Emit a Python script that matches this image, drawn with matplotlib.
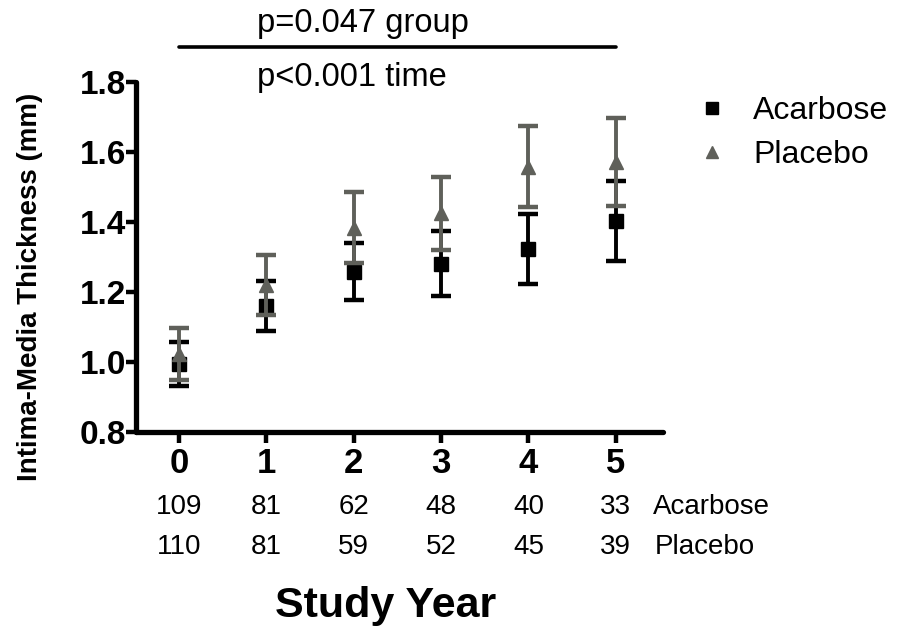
import matplotlib
matplotlib.use("Agg")
import matplotlib.pyplot as plt
from matplotlib.lines import Line2D

plt.rcParams['font.family'] = ['Liberation Sans', 'DejaVu Sans']

years = [0, 1, 2, 3, 4, 5]
acarbose_mean = [0.994, 1.160, 1.258, 1.281, 1.323, 1.403]
acarbose_err = [0.063, 0.071, 0.082, 0.093, 0.100, 0.114]
placebo_mean = [1.023, 1.220, 1.384, 1.425, 1.558, 1.571]
placebo_err = [0.074, 0.086, 0.102, 0.105, 0.116, 0.126]
n_acarbose = [109, 81, 62, 48, 40, 33]
n_placebo = [110, 81, 59, 52, 45, 39]
yticks = [0.8, 1.0, 1.2, 1.4, 1.6, 1.8]
series_names = ["Acarbose", "Placebo"]

BLACK = '#000000'
GRAY = '#5f605a'

fig = plt.figure(figsize=(8.98, 6.32), dpi=100)
ax = fig.add_axes([136/898, 1-432/632, (663-136)/898, 350/632])

ax.errorbar(years, acarbose_mean, yerr=acarbose_err, fmt='s', color=BLACK,
            ecolor=BLACK, markersize=10, elinewidth=2.8, capsize=7, capthick=3.2,
            zorder=3, clip_on=False)
ax.errorbar(years, placebo_mean, yerr=placebo_err, fmt='^', color=GRAY,
            ecolor=GRAY, markersize=10, elinewidth=2.8, capsize=7, capthick=3.2,
            zorder=4, clip_on=False)

ax.set_xlim(-0.49, 5.54)
ax.set_ylim(0.8, 1.8)
ax.set_yticks(yticks)
ax.set_yticklabels([f"{v:.1f}" for v in yticks])
ax.set_xticks(years)
ax.set_xticklabels([str(y) for y in years])

for s in ['top', 'right']:
    ax.spines[s].set_visible(False)
for s in ['left', 'bottom']:
    ax.spines[s].set_linewidth(3.8)
    ax.spines[s].set_capstyle('round')

ax.tick_params(axis='y', length=7, width=3.2, labelsize=24, pad=0)
ax.tick_params(axis='x', length=8, width=3.2, labelsize=25, pad=3)
for lbl in ax.get_yticklabels() + ax.get_xticklabels():
    lbl.set_fontweight('bold')

# significance bar
ax.plot([0, 5], [1.9, 1.9], color='black', lw=2.6, clip_on=False,
        solid_capstyle='round')
ax.text(0.89, 1.966, "p=0.047 group", fontsize=23.5, ha='left', va='center')
ax.text(0.89, 1.812, "p<0.001 time", fontsize=23.5, ha='left', va='center')

# counts under axis
tr = ax.get_xaxis_transform()
for x, na, npl in zip(years, n_acarbose, n_placebo):
    ax.text(x, -0.214, str(na), transform=tr, ha='center', va='center', fontsize=20)
    ax.text(x, -0.328, str(npl), transform=tr, ha='center', va='center', fontsize=20)
ax.text(5.43, -0.214, series_names[0], transform=tr, ha='left', va='center', fontsize=20)
ax.text(5.45, -0.328, series_names[1], transform=tr, ha='left', va='center', fontsize=20)

# labels
fig.text(30/898, 1-287/632, "Intima-Media Thickness (mm)", rotation=90,
         ha='center', va='center', fontsize=20, fontweight='bold')
fig.text(386/898, 1-606/632, "Study Year", ha='center', va='center',
         fontsize=31, fontweight='bold')

# legend
handles = [Line2D([], [], marker='s', color=BLACK, linestyle='none', markersize=9),
           Line2D([], [], marker='^', color=GRAY, linestyle='none', markersize=9)]
fig.legend(handles, series_names, loc='center left',
           bbox_to_anchor=(667/898, 1-133/632), frameon=False, fontsize=23,
           handletextpad=0.8, labelspacing=0.45, handlelength=1.0)

fig.savefig("out.png", dpi=100)
